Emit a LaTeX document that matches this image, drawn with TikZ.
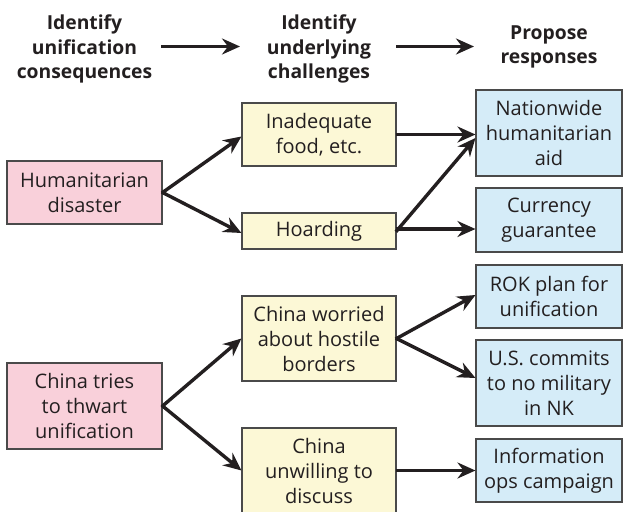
\documentclass[tikz,border=0pt]{standalone}
\usepackage{fontspec}
\setmainfont{Open Sans}
\usetikzlibrary{arrows.meta}
\definecolor{inkc}{HTML}{231F20}
\definecolor{edgec}{HTML}{4A4A4A}
\definecolor{pinkc}{HTML}{F9D0DA}
\definecolor{creamc}{HTML}{FCF8D6}
\definecolor{bluec}{HTML}{D5ECF8}
\tikzset{
  box/.style={draw=edgec, line width=1.1pt, text=inkc, align=center, inner sep=0pt,
    font=\fontsize{20}{25}\selectfont},
  causebox/.style={box, fill=pinkc, minimum width=155pt},
  challengebox/.style={box, fill=creamc, minimum width=154pt},
  responsebox/.style={box, fill=bluec, minimum width=146pt},
  head/.style={text=inkc, align=center, inner sep=0pt,
    font=\fontsize{19.3}{24.5}\selectfont\bfseries},
  link/.style={draw=inkc, line width=3.4pt,
    -{Stealth[length=18pt, width=16pt, inset=6pt]}, shorten <=-1pt}
}
\begin{document}
\begin{tikzpicture}[x=1pt, y=-1pt]
\useasboundingbox (0,0) rectangle (623,511);

% column headings
\node[head] (h1) at (84.5,49) {Identify\\unification\\consequences};
\node[head] (h2) at (319,49) {Identify\\underlying\\challenges};
\node[head] (h3) at (549,47) {Propose\\responses};
\coordinate (a1s) at (162,46.5);
\coordinate (a1e) at (240,46.5);
\coordinate (a2s) at (397,46.5);
\coordinate (a2e) at (474,46.5);
\draw[link] (a1s) -- (a1e);
\draw[link] (a2s) -- (a2e);

% humanitarian branch
\node[causebox, minimum height=63pt] (hum) at (84.5,192.5) {Humanitarian\\disaster};
\node[challengebox, minimum height=63pt] (food) at (319,134.5) {Inadequate\\food, etc.};
\node[challengebox, minimum height=36pt] (hoard) at (319,231) {Hoarding};
\node[responsebox, minimum height=86pt] (aid) at (549,133) {Nationwide\\humanitarian\\aid};
\node[responsebox, minimum height=64pt] (cur) at (549,220) {Currency\\guarantee};

\draw[link] (hum.east) -- ([yshift=-2pt]food.west);
\draw[link] (hum.east) -- ([yshift=-2pt]hoard.west);
\draw[link] (food.east) -- (food.east -| aid.west);
\draw[link] (hoard.east) -- ([yshift=-5pt]aid.west);
\draw[link] ([yshift=2pt]hoard.east) -- ([yshift=2pt]hoard.east -| cur.west);

% china branch
\node[causebox, minimum height=86pt] (china) at (84.5,406) {China tries\\to thwart\\unification};
\node[challengebox, minimum height=85pt] (worry) at (319,338.5) {China worried\\about hostile\\borders};
\node[challengebox, minimum height=85pt] (unw) at (319,470.5) {China\\unwilling to\\discuss};
\node[responsebox, minimum height=63pt] (rok) at (549,296.5) {ROK plan for\\unification};
\node[responsebox, minimum height=86pt] (us) at (549,383) {U.S. commits\\to no military\\in NK};
\node[responsebox, minimum height=63pt] (info) at (549,470.5) {Information\\ops campaign};

\draw[link] (china.east) -- (worry.west);
\draw[link] (china.east) -- (unw.west);
\draw[link] (worry.east) -- ([yshift=1.5pt]rok.west);
\draw[link] (worry.east) -- ([yshift=5pt]us.west);
\draw[link] (unw.east) -- (unw.east -| info.west);
\end{tikzpicture}
\end{document}
